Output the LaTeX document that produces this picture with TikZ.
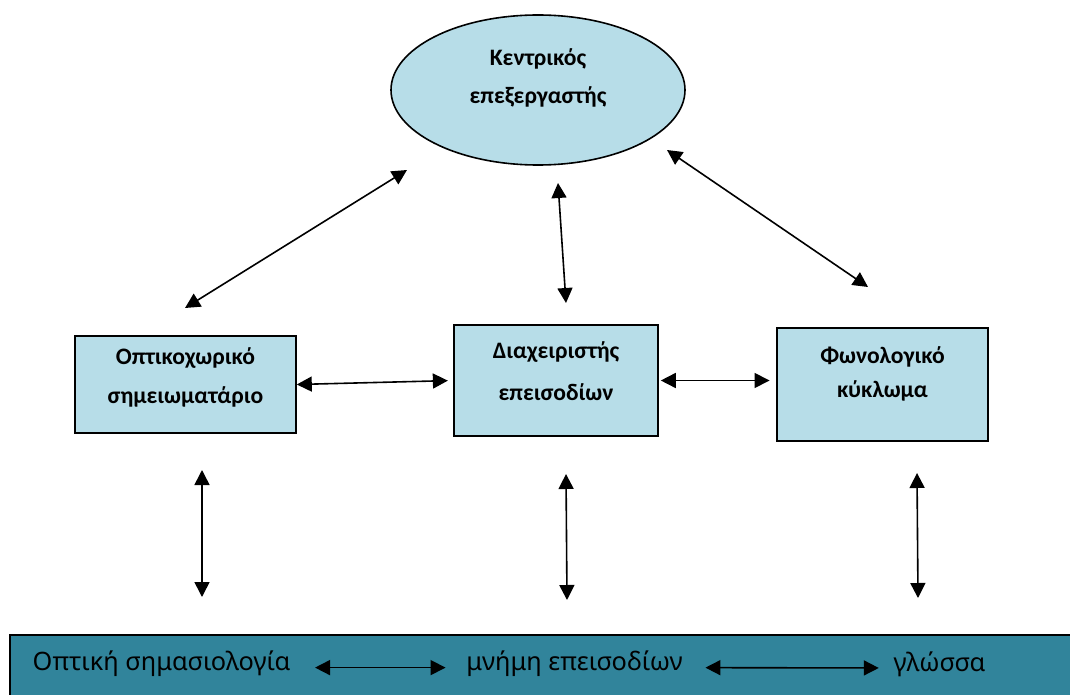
\documentclass[tikz,border=0pt]{standalone}
\usepackage{fontspec}
\setmainfont{Carlito}
\newfontfamily\barfont{Noto Sans}
\usetikzlibrary{shapes}
\usetikzlibrary{arrows.meta}
\usetikzlibrary{positioning}

\definecolor{paleblue}{HTML}{B7DDE8}
\definecolor{barteal}{HTML}{31849B}

\begin{document}
\begin{tikzpicture}[
	x=0.75pt,
	y=-0.75pt,
	line width=1.2pt]

\tikzstyle{box}=[draw=black, fill=paleblue, align=center, inner sep=0pt]
\tikzstyle{link}=[{Triangle[length=11.25pt,width=11.25pt]}-{Triangle[length=11.25pt,width=11.25pt]}]
\tikzstyle{bartext}=[inner sep=0pt, font=\barfont\fontsize{19}{22}\selectfont]

\def\PX{0.75pt}

\useasboundingbox (0,0) rectangle (1070,695);

% Central executive
\node (centre) [ellipse, box, minimum width=294*\PX, minimum height=150*\PX,
	text depth=21pt, font=\bfseries\fontsize{17.7}{28}\selectfont]
	at (538,90) {Κεντρικός\\επεξεργαστής};

% slave systems
\node (visuo) [box, minimum width=221*\PX, minimum height=97*\PX,
	text depth=13.5pt, font=\bfseries\fontsize{17.7}{29}\selectfont]
	at (185.5,384.5) {Οπτικοχωρικό\\σημειωματάριο};
\node (episodic) [box, minimum width=204*\PX, minimum height=111*\PX,
	text depth=13.5pt, font=\bfseries\fontsize{17.7}{31.5}\selectfont]
	at (556,380.5) {Διαχειριστής\\επεισοδίων};
\node (phono) [box, minimum width=211*\PX, minimum height=113*\PX,
	text depth=18.5pt, font=\bfseries\fontsize{17.7}{25}\selectfont]
	at (882.5,384.5) {Φωνολογικό\\κύκλωμα};

% long-term store
\fill[barteal, draw=black] (10,635) rectangle (1085,710);
\node (vissem) [bartext] at (161.5,664) {Οπτική σημασιολογία};
\node (epimem) [bartext] at (574.5,664) {μνήμη επεισοδίων};
\node (lang) [bartext] at (939.5,664) {γλώσσα};

% free ends of the arrows
\coordinate (vup) at (185,308);
\coordinate (cleft) at (407,170);
\coordinate (cmid) at (558,183);
\coordinate (eup) at (566,303);
\coordinate (cright) at (667,150);
\coordinate (pup) at (868,287);
\coordinate (vlow) at (202,470);
\coordinate (vbar) at (202,597);
\coordinate (elow) at (566,474);
\coordinate (ebar) at (567,600);
\coordinate (plow) at (917,473);
\coordinate (pbar) at (918,598);

% arrows to the central executive
\draw[link] (vup) -- (cleft);
\draw[link] (cmid) -- (eup);
\draw[link] (cright) -- (pup);

% arrows between the slave systems
\draw[link, shorten >=4pt] (visuo.east) -- (episodic.west);
\draw[link, shorten <=1.5pt, shorten >=5pt] (episodic.east) -- (episodic.east -| phono.west);

% arrows down to the long-term store
\draw[link] (vlow) -- (vbar);
\draw[link] (elow) -- (ebar);
\draw[link] (plow) -- (pbar);

% arrows inside the long-term store
\draw[link, shorten <=18pt, shorten >=15pt] (vissem.mid east) -- (epimem.mid west);
\draw[link, shorten <=16.5pt, shorten >=10.5pt] (epimem.mid east) -- (lang.mid west);

\end{tikzpicture}
\end{document}
